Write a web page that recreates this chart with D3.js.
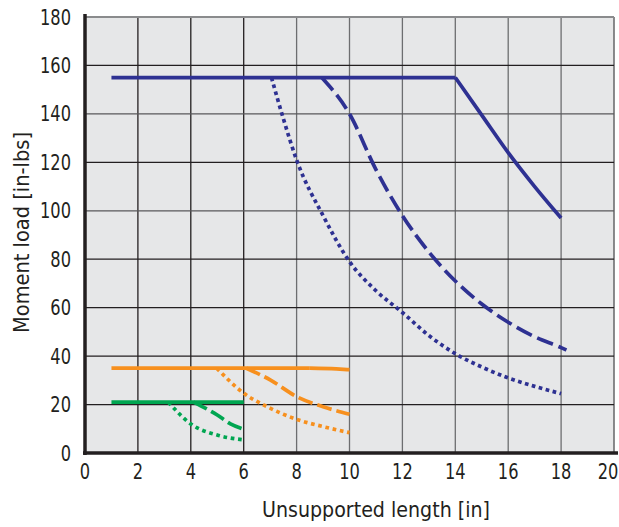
<!DOCTYPE html>
<html>
<head>
<meta charset="utf-8">
<script src="https://cdn.jsdelivr.net/npm/d3@7"></script>
<style>
  body { margin: 0; background: #fff; }
  text { font-family: "Liberation Sans Narrow", "DejaVu Sans Condensed", sans-serif; fill: #231f20; }
</style>
</head>
<body>
<script>
// values: [unsupported length (in), moment load (in-lbs)]
const xTicks = [0, 2, 4, 6, 8, 10, 12, 14, 16, 18, 20];
const yTicks = [0, 20, 40, 60, 80, 100, 120, 140, 160, 180];

const blueSolid  = [[1,155],[14,155],[15,139.5],[16,124],[17,110],[18,97]];
const blueDashed = [[8.95,155],[10,140],[11,117],[12,98],[13,83],[14,71],[15,61.5],[16,54],[17,48],[18,43.5],[18.2,42.5]];
const blueDotted = [[7.05,155],[7.5,138],[8,121],[9,98],[10,79],[11,67],[12,58],[13,48.5],[14,41],[15,35.5],[16,31],[17,27.5],[18,24.5]];

const orangeSolid  = [[1,35],[8.5,35],[9.5,34.7],[10,34.4]];
const orangeDashed = [[6.1,35],[7,30.2],[8,23.3],[9,19.1],[10,16]];
const orangeDotted = [[4.98,35],[6,24.7],[7,18.5],[8,13.9],[9,10.9],[10,8.4]];

const greenSolid  = [[1,21],[6,21]];
const greenDashed = [[4.1,21],[5,15.7],[5.5,12],[6,9.8]];
const greenDotted = [[3.15,21],[4,12],[5,7.4],[6,5.4]];

const blue = '#2e3192', orange = '#f7901e', green = '#00a651';

const width = 619, height = 527;
const margin = {top: 17, right: 5, bottom: 74, left: 85};
const squeeze = 0.86; // the original font is a condensed face

const svg = d3.select('body').append('svg')
  .attr('width', width)
  .attr('height', height);

const x = d3.scaleLinear().domain([0, 20]).range([margin.left, width - margin.right]);
const y = d3.scaleLinear().domain([0, 180]).range([height - margin.bottom, margin.top]);

// plot background
svg.append('rect')
  .attr('x', x(0)).attr('y', y(180))
  .attr('width', x(20) - x(0)).attr('height', y(0) - y(180))
  .attr('fill', '#e6e7e8');

// grid
svg.append('g')
  .selectAll('line')
  .data(xTicks.slice(1))
  .join('line')
  .attr('x1', d => x(d)).attr('x2', d => x(d))
  .attr('y1', y(180)).attr('y2', y(0))
  .attr('stroke', d => d <= 6 ? '#231f20' : '#6d6e70')
  .attr('stroke-width', d => d == 20 ? 1.6 : 1.3);

svg.append('g')
  .selectAll('line')
  .data(yTicks.slice(1))
  .join('line')
  .attr('x1', x(0)).attr('x2', x(20))
  .attr('y1', d => y(d)).attr('y2', d => y(d))
  .attr('stroke', d => d == 180 ? '#8a8b8d' : (d == 140 || d == 100 ? '#58595b' : '#231f20'))
  .attr('stroke-width', d => d == 180 ? 1.8 : 1.3);

// axes lines
svg.append('line')
  .attr('x1', x(0)).attr('x2', x(0))
  .attr('y1', y(180) - 3).attr('y2', y(0) + 2)
  .attr('stroke', '#231f20').attr('stroke-width', 3.5);
svg.append('line')
  .attr('x1', x(0) - 2).attr('x2', width - 1)
  .attr('y1', y(0)).attr('y2', y(0))
  .attr('stroke', '#231f20').attr('stroke-width', 3.5);

// tick labels
svg.append('g')
  .selectAll('text')
  .data(yTicks)
  .join('text')
  .attr('transform', d => `translate(71,${y(d) + 7.5}) scale(${squeeze},1)`)
  .attr('text-anchor', 'end')
  .attr('font-size', 21)
  .text(d => d);

svg.append('g')
  .selectAll('text')
  .data(xTicks)
  .join('text')
  .attr('transform', d => `translate(${d == 20 ? 608 : x(d)},479) scale(${squeeze},1)`)
  .attr('text-anchor', 'middle')
  .attr('font-size', 21)
  .text(d => d);

// axis titles
svg.append('text')
  .attr('x', 262).attr('y', 517)
  .attr('font-size', 21)
  .attr('textLength', 228)
  .attr('lengthAdjust', 'spacingAndGlyphs')
  .text('Unsupported length [in]');

svg.append('text')
  .attr('transform', 'translate(29,333) rotate(-90)')
  .attr('font-size', 21)
  .attr('textLength', 201)
  .attr('lengthAdjust', 'spacingAndGlyphs')
  .text('Moment load [in-lbs]');

// curves: flat part straight, falling part smooth (keeps the kink)
const flatLine = d3.line().x(d => x(d[0])).y(d => y(d[1]));
const curveLine = d3.line().x(d => x(d[0])).y(d => y(d[1])).curve(d3.curveMonotoneX);

function drawSeries(pts, color, dash) {
  let k = 0;
  while (k + 1 < pts.length && pts[k + 1][1] == pts[0][1]) k++;
  const g = svg.append('g')
    .attr('fill', 'none')
    .attr('stroke', color)
    .attr('stroke-width', 3.7)
    .attr('stroke-dasharray', dash);
  if (k > 0) g.append('path').attr('d', flatLine(pts.slice(0, k + 1)));
  if (k < pts.length - 1) g.append('path').attr('d', curveLine(pts.slice(k)));
}

drawSeries(blueDotted, blue, '3.7,3.5');
drawSeries(blueDashed, blue, '17,6');
drawSeries(blueSolid, blue, null);

drawSeries(orangeDotted, orange, '3.7,3.7');
drawSeries(orangeDashed, orange, '15,5');
drawSeries(orangeSolid, orange, null);

drawSeries(greenDotted, green, '3.7,3.7');
drawSeries(greenDashed, green, '15,5');
drawSeries(greenSolid, green, null);
</script>
</body>
</html>
